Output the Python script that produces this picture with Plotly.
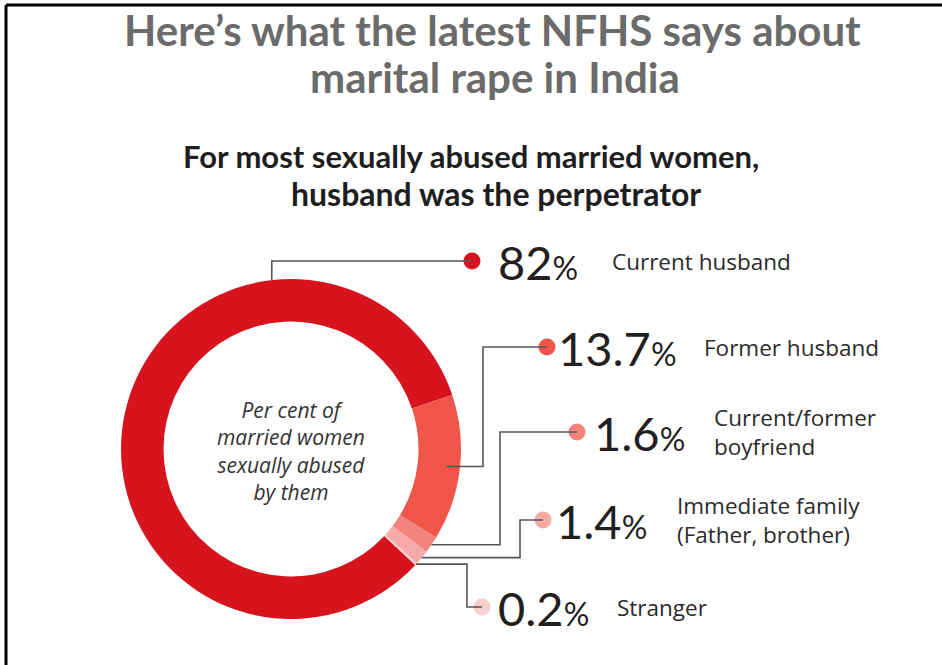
import math
import plotly.graph_objects as go

# ---------------- data ----------------
categories = ["Current husband", "Former husband", "Current/former<br>boyfriend",
              "Immediate family<br>(Father, brother)", "Stranger"]
values = [82, 13.7, 1.6, 1.4, 0.2]
value_labels = ["82", "13.7", "1.6", "1.4", "0.2"]
colors = ["#d7141d", "#ef5549", "#f2847d", "#f5aaa8", "#f8cfcf"]

title_lines = ["Here’s what the latest NFHS says about", "marital rape in India"]
subtitle_lines = ["For most sexually abused married women,", "husband was the perpetrator"]
center_text = "Per cent of<br>married women<br>sexually abused<br>by them"

# ---------------- layout constants (pixels) ----------------
W, H = 942, 665
CX, CY, R = 291, 449, 170
HOLE = 0.75
ROTATION = 133

label_y = [261, 347, 432, 520, 607]
dot_x = [472, 547, 577, 543, 482]
elbow_x = [None, 483, 500, 520, 467]
anchor_r = [1.0, 0.92, 1.0, 1.0, 1.0]
current_anchor_angle = -6.5
num_x = [496, 556, 592, 554, 496]
lab_x = [610, 702, 712, 675, 615]

def px(angle_deg, r):
    a = math.radians(angle_deg)
    return CX + r * math.sin(a), CY - r * math.cos(a)

fig = go.Figure()

# donut
fig.add_trace(go.Pie(
    values=values, labels=[c.replace("<br>", " ") for c in categories],
    hole=HOLE, sort=False, direction="clockwise", rotation=ROTATION,
    marker=dict(colors=colors, line=dict(width=0)),
    textinfo="none", hoverinfo="label+value", showlegend=False,
    domain=dict(x=[(CX - R) / W, (CX + R) / W],
                y=[(H - CY - R) / H, (H - CY + R) / H]),
))

# slice mid-angles from the data
total = sum(values)
mids = []
start = ROTATION
for v in values:
    span = v / total * 360
    mids.append(start + span / 2)
    start += span

shapes = []
# frame
shapes.append(dict(type="line", xref="x", yref="y", x0=6, y0=5, x1=6, y1=H,
                   line=dict(color="#000", width=3)))
shapes.append(dict(type="line", xref="x", yref="y", x0=6, y0=5, x1=W, y1=5,
                   line=dict(color="#000", width=3)))

for i in range(len(values)):
    if i == 0:
        ax, ay = px(current_anchor_angle, R * anchor_r[i])
        path = f"M{ax},{ay} L{ax},{label_y[i]} L{dot_x[i]},{label_y[i]}"
    else:
        ax, ay = px(mids[i], R * anchor_r[i])
        ex = elbow_x[i]
        path = f"M{ax},{ay} L{ex},{ay} L{ex},{label_y[i]} L{dot_x[i]},{label_y[i]}"
    shapes.append(dict(type="path", xref="x", yref="y", path=path, layer="above",
                       line=dict(color="#555555", width=1.6)))

# dots
fig.add_trace(go.Scatter(
    x=dot_x, y=label_y, mode="markers",
    marker=dict(size=17, color=colors), hoverinfo="skip", showlegend=False,
))

annotations = []
# titles
annotations.append(dict(x=492, y=30, text=title_lines[0], showarrow=False, xanchor="center",
                        yanchor="middle", font=dict(family="Lato", size=42, color="#6b6b6b", weight="bold")))
annotations.append(dict(x=495, y=77, text=title_lines[1], showarrow=False, xanchor="center",
                        yanchor="middle", font=dict(family="Lato", size=42, color="#6b6b6b", weight="bold")))
annotations.append(dict(x=471, y=156, text=subtitle_lines[0], showarrow=False, xanchor="center",
                        yanchor="middle", font=dict(family="Lato", size=31, color="#1e1e1e", weight="bold")))
annotations.append(dict(x=496, y=193, text=subtitle_lines[1], showarrow=False, xanchor="center",
                        yanchor="middle", font=dict(family="Lato", size=32, color="#1e1e1e", weight="bold")))
# center text
annotations.append(dict(x=CX, y=CY + 2, text=center_text, showarrow=False, xanchor="center",
                        yanchor="middle", align="center",
                        font=dict(family="Open Sans", size=21, color="#333333", style="italic")))
# value labels
for i in range(len(values)):
    annotations.append(dict(
        x=num_x[i], y=label_y[i] + 1, xanchor="left", yanchor="middle", showarrow=False,
        text=f"{value_labels[i]}<span style='font-size:32px'>%</span>",
        font=dict(family="Lato", size=47, color="#231f20")))
    annotations.append(dict(
        x=lab_x[i], y=label_y[i], xanchor="left", yanchor="middle", showarrow=False,
        align="left", text=categories[i],
        font=dict(family="Open Sans", size=22.5, color="#2b2b2b")))

fig.update_layout(
    width=W, height=H, margin=dict(l=0, r=0, t=0, b=0),
    paper_bgcolor="white", plot_bgcolor="white",
    xaxis=dict(range=[0, W], visible=False, fixedrange=True, domain=[0, 1]),
    yaxis=dict(range=[H, 0], visible=False, fixedrange=True, domain=[0, 1]),
    shapes=shapes, annotations=annotations,
)

fig.write_html("out.html")
